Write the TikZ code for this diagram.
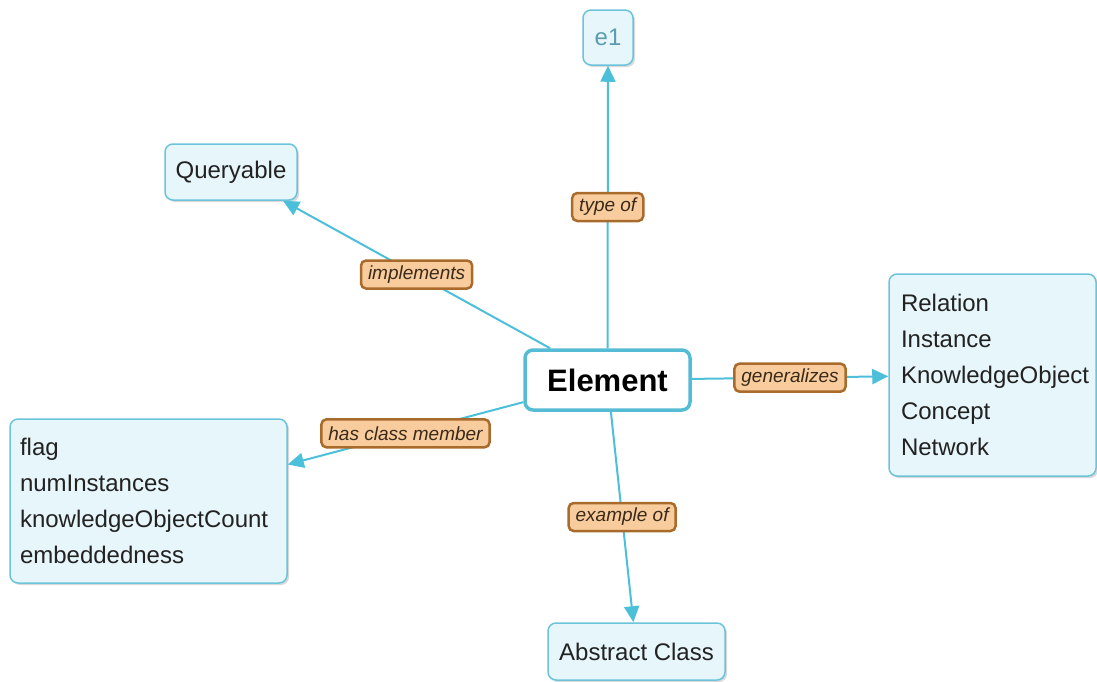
\documentclass[tikz,border=0pt]{standalone}
\usepackage{fontspec}
\setmainfont{Liberation Sans}
\usetikzlibrary{arrows.meta,shadows}
\definecolor{boxborder}{HTML}{6CC4DA}
\definecolor{boxfill}{HTML}{E7F6FA}
\definecolor{arrowc}{HTML}{4CBFDA}
\definecolor{elborder}{HTML}{56BCD5}
\definecolor{labfill}{HTML}{F8CC9C}
\definecolor{labborder}{HTML}{A86B2C}
\definecolor{labtext}{HTML}{3A2A1A}
\definecolor{txt}{HTML}{222222}
\definecolor{eonec}{HTML}{5D9DAD}
\begin{document}
\begin{tikzpicture}[x=1pt,y=-1pt,
  box/.style={draw=boxborder, line width=1.5pt, fill=boxfill, rounded corners=8pt,
    drop shadow={shadow xshift=2pt,shadow yshift=-2pt,opacity=0.3,fill=black!50},
    font=\fontsize{24}{36}\selectfont, text=txt, inner sep=0pt},
  listbox/.style={box, align=left, inner xsep=#1, inner ysep=0pt},
  lab/.style={draw=labborder, line width=2.5pt, fill=labfill, rounded corners=5pt,
    font=\fontsize{19}{19}\selectfont\itshape, inner xsep=7pt, inner ysep=0pt,
    minimum height=28pt, text=labtext},
  conn/.style={draw=arrowc, line width=2pt, -{Triangle[length=16pt,width=15pt]}},
]
\useasboundingbox (0,0) rectangle (1097,681);

\node[draw=elborder, line width=3.5pt, fill=white, rounded corners=8pt,
  minimum width=165pt, minimum height=60pt, inner sep=0pt,
  font=\fontsize{31}{31}\selectfont\bfseries, text=black] (el) at (607.5,380) {Element};

\node[box, minimum width=50pt, minimum height=55pt, text=eonec,
  font=\fontsize{24}{24}\selectfont] (e1) at (608,37.5) {e1};
\node[box, minimum width=132pt, minimum height=56pt] (q) at (231,172) {Queryable};
\node[box, minimum width=177pt, minimum height=57pt] (ac) at (636.5,651.5) {Abstract Class};
\node[listbox=10pt, text width=257pt, minimum height=164pt] (lb) at (148.5,501)
  {flag\\numInstances\\knowledgeObjectCount\\embeddedness};
\node[listbox=12pt, text width=183pt, minimum height=202pt] (rb) at (992.5,375)
  {Relation\\Instance\\KnowledgeObject\\Concept\\Network};

\draw[conn] (el) -- node[lab]{type of} (e1);
\draw[conn] (el) -- node[lab]{implements} (q);
\draw[conn] (el) -- node[lab]{generalizes} (rb);
\draw[conn] (el) -- node[lab]{has class member} (lb);
\draw[conn] (el) -- node[lab]{example of} (ac);
\end{tikzpicture}
\end{document}
